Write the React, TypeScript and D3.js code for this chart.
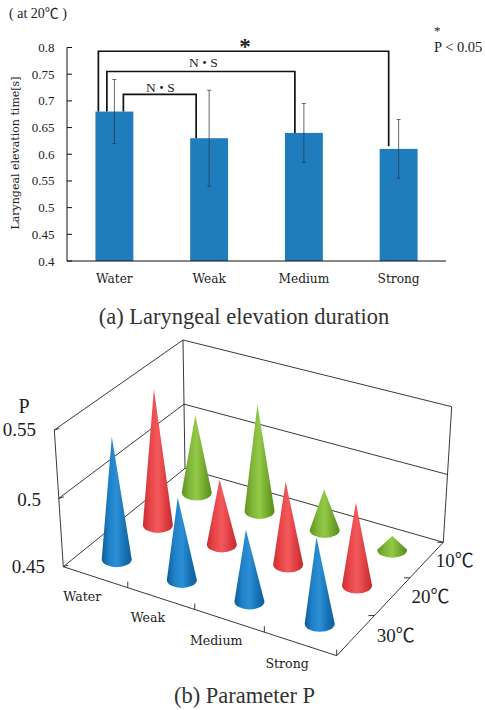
import React from "react";
import * as d3 from "d3";

const categories = ["Water", "Weak", "Medium", "Strong"];
const temps = ["30℃", "20℃", "10℃"];

// bar chart (a)
const durationMean = [0.68, 0.63, 0.64, 0.61];
const durationLow = [0.62, 0.54, 0.585, 0.555];
const durationHigh = [0.74, 0.72, 0.695, 0.665];
const durationTicks = [0.4, 0.45, 0.5, 0.55, 0.6, 0.65, 0.7, 0.75, 0.8];
const durationTickLabels = ["0.4", "0.45", "0.5", "0.55", "0.6", "0.65", "0.7", "0.75", "0.8"];

// cones (b)
const param30 = [0.54, 0.51, 0.502, 0.513];
const param20 = [0.552, 0.498, 0.511, 0.511];
const param10 = [0.509, 0.53, 0.48, 0.46];
const paramTicks = [0.45, 0.5, 0.55];
const paramTickLabels = ["0.45", "0.5", "0.55"];

const serif = "'Liberation Serif', 'Noto Sans CJK JP', serif";
const wideSerif = "'DejaVu Serif', 'Liberation Serif', serif";
const ink = "#222";

// unit square -> quad, corners in order (0,0) (1,0) (1,1) (0,1)
function quadMap(q: number[][]) {
  const [[x0, y0], [x1, y1], [x2, y2], [x3, y3]] = q;
  const dx1 = x1 - x2, dx2 = x3 - x2, sx = x0 - x1 + x2 - x3;
  const dy1 = y1 - y2, dy2 = y3 - y2, sy = y0 - y1 + y2 - y3;
  const det = dx1 * dy2 - dx2 * dy1;
  const g = (sx * dy2 - dx2 * sy) / det;
  const h = (dx1 * sy - sx * dy1) / det;
  const a = x1 - x0 + g * x1, b = x3 - x0 + h * x3;
  const d = y1 - y0 + g * y1, e = y3 - y0 + h * y3;
  return (u: number, v: number): [number, number] => {
    const w = g * u + h * v + 1;
    return [(a * u + b * v + x0) / w, (d * u + e * v + y0) / w];
  };
}

const floorMap = quadMap([[63.3, 566.7], [336.7, 655.7], [443.3, 542.3], [185, 468.3]]);
const topMap = quadMap([[54.3, 430], [327, 519], [451.7, 406.7], [183, 340]]);

const uScale = d3.scaleLinear().domain([-0.5, 3.5]).range([0, 1]);
const vScale = d3.scaleLinear().domain([-0.5, 2.5]).range([0, 1]);
const wScale = d3.scaleLinear().domain([0.45, 0.55]).range([0, 1]);

function project(u: number, v: number, w: number): [number, number] {
  const f = floorMap(u, v);
  const t = topMap(u, v);
  return [f[0] + (t[0] - f[0]) * w, f[1] + (t[1] - f[1]) * w];
}

const line = (a: number[], b: number[]) => `M${a[0]},${a[1]}L${b[0]},${b[1]}`;

function BarPanel() {
  const x = d3.scaleBand<string>().domain(categories).range([67, 446]).paddingInner(0.6).paddingOuter(0.3);
  const y = d3.scaleLinear().domain([0.4, 0.8]).range([261, 47.5]);
  const cx = (c: string) => x(c)! + x.bandwidth() / 2;
  const bw = x.bandwidth();

  const bracket = (from: string, fromDx: number, to: string, toDx: number, level: number, toBottom: number) => {
    const x0 = cx(from) + fromDx;
    const x1 = cx(to) + toDx;
    return `M${x0},${y(durationMean[categories.indexOf(from)])}V${y(level)}H${x1}V${y(toBottom)}`;
  };

  return (
    <g fontFamily={serif} fill={ink}>
      <text x={9} y={18} fontSize={14}>( at 20℃ )</text>
      <text x={434} y={35} fontSize={13}>*</text>
      <text x={434} y={52} fontSize={14.5}>P &lt; 0.05</text>

      {categories.map((c, i) => (
        <rect key={c} x={x(c)} y={y(durationMean[i])} width={bw} height={y(0.4) - y(durationMean[i])} fill="#1f7dbd" />
      ))}
      {categories.map((c, i) => (
        <g key={c} stroke="#2b3a4a" strokeOpacity={0.75} strokeWidth={1}>
          <path d={`M${cx(c)},${y(durationLow[i])}V${y(durationHigh[i])}`} fill="none" />
          <path d={`M${cx(c) - 2},${y(durationLow[i])}h4M${cx(c) - 2},${y(durationHigh[i])}h4`} fill="none" />
        </g>
      ))}

      <g fill="none" stroke="#111" strokeWidth={1.7}>
        <path d={bracket("Water", -16, "Strong", -0.5 - bw / 2 + 9.5, 0.793, 0.615)} />
        <path d={bracket("Water", -7.5, "Medium", -9, 0.755, 0.64)} />
        <path d={bracket("Water", 9, "Weak", -13, 0.712, 0.63)} />
      </g>
      <text x={245} y={54} fontSize={23} fontWeight="bold" textAnchor="middle">*</text>
      <text x={203} y={67} fontSize={13.5} letterSpacing={-1} textAnchor="middle">N・S</text>
      <text x={160} y={92} fontSize={13.5} letterSpacing={-1} textAnchor="middle">N・S</text>

      <path d={`M72,${y(0.8)}H67V${y(0.4)}H446`} fill="none" stroke="#111" strokeWidth={1} />
      {durationTicks.map((t, i) => (
        <g key={t}>
          <path d={`M67,${y(t)}h5`} stroke="#111" />
          <text x={54.5} y={y(t) + 4.5} fontSize={13} textAnchor="end">{durationTickLabels[i]}</text>
        </g>
      ))}
      {categories.map((c) => (
        <text key={c} x={cx(c)} y={283} fontSize={12.2} fontFamily={wideSerif} textAnchor="middle">{c}</text>
      ))}
      <text transform="translate(19,153) rotate(-90)" fontSize={11} fontFamily={wideSerif} textAnchor="middle">Laryngeal elevation time[s]</text>
      <text x={244} y={324} fontSize={22.5} textAnchor="middle" fill="#333">(a) Laryngeal elevation duration</text>
    </g>
  );
}

const rowColors = [
  { id: "blue", stops: ["#0d5a99", "#1f82c8", "#2c8fd6", "#1873b5", "#0f5c9c"] },
  { id: "red", stops: ["#c92f33", "#e8454a", "#f25a5c", "#e03f44", "#bf2a2e"] },
  { id: "green", stops: ["#5f9420", "#80b53a", "#93c946", "#74aa2e", "#578a1c"] },
];

function Cone({ cat, row, value }: { cat: number; row: number; value: number }) {
  const base = project(uScale(cat), vScale(row), 0);
  const apex = project(uScale(cat), vScale(row), wScale(value));
  const rx = 15;
  const ry = 8;
  // cones lean less than the box edges do
  const apexX = base[0] + (apex[0] - base[0]) * 0.55;
  const d = `M${base[0] - rx},${base[1]}L${apexX},${apex[1]}L${base[0] + rx},${base[1]}A${rx},${ry} 0 0 1 ${base[0] - rx},${base[1]}Z`;
  return <path d={d} fill={`url(#${rowColors[row].id})`} />;
}

function ConePanel() {
  const rows = [param30, param20, param10];
  const corner = (u: number, v: number, w: number) => project(u, v, w);
  const levels = [0, 0.5, 1];

  // back rows first so the nearer cones sit on top
  const order: { cat: number; row: number; value: number }[] = [];
  [2, 1, 0].forEach((row) => categories.forEach((_, cat) => order.push({ cat, row, value: rows[row][cat] })));

  const box: string[] = [];
  levels.forEach((w) => {
    box.push(line(corner(0, 0, w), corner(0, 1, w)));
    box.push(line(corner(0, 1, w), corner(1, 1, w)));
  });
  box.push(line(corner(0, 0, 0), corner(0, 0, 1)));
  box.push(line(corner(0, 1, 0), corner(0, 1, 1)));
  box.push(line(corner(1, 1, 0), corner(1, 1, 1)));
  box.push(line(corner(0, 0, 0), corner(1, 0, 0)));
  box.push(line(corner(1, 0, 0), corner(1, 1, 0)));

  const ticks: string[] = [];
  [0.25, 0.5, 0.75, 1].forEach((u) => {
    const p = corner(u, 0, 0);
    ticks.push(`M${p[0]},${p[1]}v-6`);
  });
  [1 / 3, 2 / 3, 1].forEach((v) => {
    const p = corner(1, v, 0);
    ticks.push(`M${p[0]},${p[1]}h-6`);
  });
  paramTicks.forEach((t) => {
    const p = corner(0, 0, wScale(t));
    ticks.push(`M${p[0]},${p[1]}l5,-1.5`);
  });

  return (
    <g fontFamily={serif} fill={ink}>
      <defs>
        {rowColors.map((c) => (
          <linearGradient key={c.id} id={c.id} x1="0" x2="1" y1="0" y2="0">
            {c.stops.map((s, i) => (
              <stop key={i} offset={i / (c.stops.length - 1)} stopColor={s} />
            ))}
          </linearGradient>
        ))}
      </defs>
      <path d={box.join("")} fill="none" stroke="#222" strokeWidth={0.9} />
      <path d={ticks.join("")} fill="none" stroke="#222" strokeWidth={0.9} />
      {order.map((o) => (
        <Cone key={`${o.row}-${o.cat}`} {...o} />
      ))}

      <text x={24} y={413} fontSize={20} textAnchor="middle">P</text>
      {paramTicks.map((t, i) => {
        const p = corner(0, 0, wScale(t));
        return (
          <text key={t} x={[45, 41, 36][i]} y={p[1] + [6, 8, 6][i]} fontSize={19} textAnchor="end">{paramTickLabels[i]}</text>
        );
      })}
      {categories.map((c, i) => {
        const p = corner(uScale(i), 0, 0);
        return (
          <text key={c} x={p[0] - 13} y={p[1] + 24} fontSize={12.6} fontFamily={wideSerif} textAnchor="middle">{c}</text>
        );
      })}
      {temps.map((t, i) => {
        const p = corner(1, vScale(i), 0);
        return (
          <text key={t} x={p[0] + [21, 19, 9][i]} y={p[1] + 7} fontSize={19} textAnchor="start">{t}</text>
        );
      })}
      <text x={244.5} y={703} fontSize={22.5} textAnchor="middle" fill="#333">(b) Parameter P</text>
    </g>
  );
}

export default function App() {
  return (
    <svg width={485} height={710} style={{ position: "absolute", left: 0, top: 0, background: "#fff" }}>
      <BarPanel />
      <ConePanel />
    </svg>
  );
}
